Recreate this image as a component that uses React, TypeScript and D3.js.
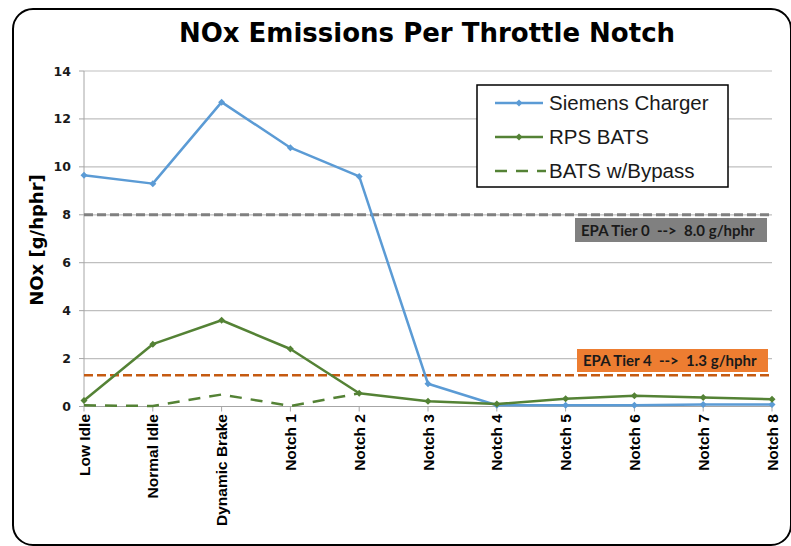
import React from "react";
import * as d3 from "d3";

const categories = ["Low Idle", "Normal Idle", "Dynamic Brake", "Notch 1", "Notch 2", "Notch 3", "Notch 4", "Notch 5", "Notch 6", "Notch 7", "Notch 8"];
const siemens = [9.65, 9.3, 12.7, 10.8, 9.6, 0.95, 0.05, 0.05, 0.05, 0.08, 0.08];
const rpsBats = [0.25, 2.6, 3.6, 2.4, 0.55, 0.22, 0.1, 0.32, 0.45, 0.38, 0.3];
const bypass = [0.05, 0.02, 0.5, 0.02, 0.55];
const yTicks = [0, 2, 4, 6, 8, 10, 12, 14];
const tier0 = 8.0;
const tier4 = 1.3;
const tier0Label = "EPA Tier 0  -->  8.0 g/hphr";
const tier4Label = "EPA Tier 4  -->  1.3 g/hphr";
const seriesNames = ["Siemens Charger", "RPS BATS", "BATS w/Bypass"];

const W = 791, H = 546;
const left = 84, right = 772, top = 71, bottom = 406.5;

export default function App() {
  const x = d3.scalePoint<string>().domain(categories).range([left, right]);
  const y = d3.scaleLinear().domain([0, 14]).range([bottom, top]);
  const line = d3.line<number>().x((_, i) => x(categories[i])!).y((d) => y(d));
  const blue = "#5b9bd5";
  const green = "#548235";
  const diamond = (cx: number, cy: number, r = 3.5) =>
    `M${cx},${cy - r}L${cx + r},${cy}L${cx},${cy + r}L${cx - r},${cy}Z`;

  return (
    <svg width={W} height={H} style={{ position: "absolute", left: 0, top: 0, background: "#fff" }}>
      <rect x={0} y={0} width={W} height={H} fill="#fff" />
      <rect x={13} y={9} width={778} height={536} rx={20} ry={20} fill="none" stroke="#000" strokeWidth={2} />
      <text x={427} y={42} textAnchor="middle" fontFamily="DejaVu Sans" fontWeight="bold" fontSize={26} fill="#000">
        NOx Emissions Per Throttle Notch
      </text>
      {/* gridlines */}
      {yTicks.filter((t) => t > 0).map((t) => (
        <line key={t} x1={left} x2={right} y1={y(t)} y2={y(t)} stroke="#bfbfbf" strokeWidth={1.2} />
      ))}
      {/* axes */}
      <line x1={left} x2={left} y1={top} y2={bottom} stroke="#a6a6a6" strokeWidth={1} />
      <line x1={left} x2={right} y1={bottom} y2={bottom} stroke="#a6a6a6" strokeWidth={1.2} />
      {yTicks.map((t) => (
        <g key={t}>
          <line x1={left - 5} x2={left} y1={y(t)} y2={y(t)} stroke="#a6a6a6" />
          <text x={71} y={y(t) + 4.5} textAnchor="end" fontFamily="DejaVu Sans" fontWeight="bold" fontSize={12.5} fill="#1a1a1a">
            {t}
          </text>
        </g>
      ))}
      {categories.map((c) => (
        <g key={c}>
          <line x1={x(c)} x2={x(c)} y1={bottom} y2={bottom + 5} stroke="#a6a6a6" />
          <text
            transform={`translate(${x(c)! + 5.5},${414}) rotate(-90)`}
            textAnchor="end"
            fontFamily="Liberation Sans"
            fontWeight="bold"
            fontSize={15.5}
            fill="#000"
          >
            {c}
          </text>
        </g>
      ))}
      <text transform={`translate(43,240) rotate(-90)`} textAnchor="middle" fontFamily="DejaVu Sans" fontWeight="bold" fontSize={18} fill="#000">
        NOx [g/hphr]
      </text>
      {/* reference lines */}
      <line x1={left} x2={right} y1={y(tier0)} y2={y(tier0)} stroke="#808080" strokeWidth={3} strokeDasharray="9,4" />
      <line x1={left} x2={right} y1={y(tier4)} y2={y(tier4)} stroke="#c55a11" strokeWidth={2.5} strokeDasharray="9,4" />
      <rect x={575} y={218} width={192} height={24} fill="#808080" />
      <text x={581} y={235.5} fontFamily="Lato" fontWeight="bold" fontSize={15} fill="#1a1a1a" style={{ whiteSpace: "pre" }}>{tier0Label}</text>
      <rect x={577} y={349} width={191} height={23} fill="#ed7d31" />
      <text x={583} y={366} fontFamily="Lato" fontWeight="bold" fontSize={15} fill="#1a1a1a" style={{ whiteSpace: "pre" }}>{tier4Label}</text>
      {/* series */}
      <path d={line(bypass)!} fill="none" stroke={green} strokeWidth={2.5} strokeDasharray="12,9" />
      <path d={line(siemens)!} fill="none" stroke={blue} strokeWidth={2.5} strokeLinejoin="round" />
      {siemens.map((v, i) => (
        <path key={"s" + i} d={diamond(x(categories[i])!, y(v))} fill={blue} />
      ))}
      <path d={line(rpsBats)!} fill="none" stroke={green} strokeWidth={2.5} strokeLinejoin="round" />
      {rpsBats.map((v, i) => (
        <path key={"r" + i} d={diamond(x(categories[i])!, y(v))} fill={green} />
      ))}
      {/* legend */}
      <rect x={477} y={85} width={251} height={102} fill="#fff" stroke="#000" strokeWidth={1.5} />
      {[blue, green, green].map((c, i) => {
        const ly = 103 + i * 34;
        return (
          <g key={i}>
            {i < 2 ? (
              <>
                <line x1={495} x2={543} y1={ly} y2={ly} stroke={c} strokeWidth={2.5} />
                <path d={diamond(519, ly)} fill={c} />
              </>
            ) : (
              <line x1={495} x2={546} y1={ly} y2={ly} stroke={c} strokeWidth={2.5} strokeDasharray="12,9" />
            )}
            <text x={549} y={ly + 7} fontFamily="Liberation Sans" fontSize={20.5} fill="#1a1a1a">
              {seriesNames[i]}
            </text>
          </g>
        );
      })}
    </svg>
  );
}
